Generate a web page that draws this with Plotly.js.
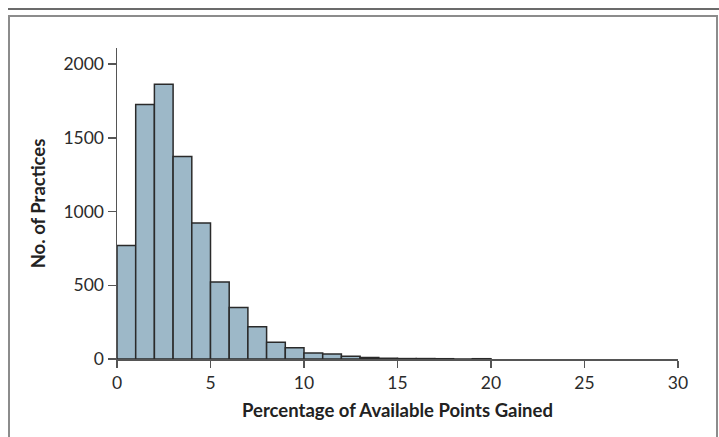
<!DOCTYPE html>
<html>
<head>
<meta charset="utf-8">
<script src="https://cdn.plot.ly/plotly-3.0.1.min.js"></script>
<style>
  html, body { margin: 0; padding: 0; background: #fff; }
  #wrap { position: relative; width: 719px; height: 437px; overflow: hidden; }
  #chart { position: absolute; left: 0; top: 0; width: 719px; height: 437px; }
  .topline { position: absolute; left: 8px; top: 8px; width: 711px; height: 2px; background: #6b6b6b; pointer-events: none; }
  .box { position: absolute; left: 8px; top: 15px; width: 706px; height: 440px; border: 2px solid #8c8c8c; border-bottom: none; pointer-events: none; }
</style>
</head>
<body>
<div id="wrap">
  <div id="chart"></div>
  <div class="topline"></div>
  <div class="box"></div>
</div>
<script>
// Histogram bins: percentage of available points gained (bin start, width 1)
const binStarts = [0, 1, 2, 3, 4, 5, 6, 7, 8, 9, 10, 11, 12, 13, 14, 15, 16, 17, 18, 19];
const practiceCounts = [770, 1726, 1864, 1374, 922, 522, 350, 219, 113, 77, 41, 34, 18, 11, 5, 3, 3, 2, 0, 2];
const xTickVals = [0, 5, 10, 15, 20, 25, 30];
const yTickVals = [0, 500, 1000, 1500, 2000];

const font = "Lato, 'Open Sans', 'Noto Sans', sans-serif";

const trace = {
  type: 'bar',
  x: binStarts,
  y: practiceCounts,
  width: 1,
  offset: 0,
  marker: { color: '#9db8c8', line: { color: '#2a2a2a', width: 1.5 } },
  hoverinfo: 'skip'
};

const layout = {
  width: 719, height: 437,
  margin: { l: 117, r: 41, t: 48, b: 78 },
  paper_bgcolor: 'rgba(0,0,0,0)',
  plot_bgcolor: 'rgba(0,0,0,0)',
  showlegend: false,
  bargap: 0,
  font: { family: font, size: 17.5, color: '#2b2b2b' },
  xaxis: {
    range: [0, 30],
    tickvals: xTickVals,
    ticktext: xTickVals.map(String),
    ticks: 'outside', ticklen: 7, tickwidth: 1.5, tickcolor: '#555',
    showline: true, linecolor: '#555', linewidth: 1.5,
    showgrid: false, zeroline: false,
    tickfont: { family: font, size: 17.5, color: '#2b2b2b' },
    title: { text: 'Percentage of Available Points Gained', standoff: 12,
             font: { family: font, size: 18.5, color: '#222', weight: 'bold' } },
    automargin: false,
    fixedrange: true
  },
  yaxis: {
    range: [0, 2110],
    tickvals: yTickVals,
    ticktext: yTickVals.map(String),
    ticks: 'outside', ticklen: 8, tickwidth: 1.5, tickcolor: '#555',
    showline: true, linecolor: '#555', linewidth: 1.5,
    showgrid: false, zeroline: false,
    tickfont: { family: font, size: 17.5, color: '#2b2b2b' },
    title: { text: 'No. of Practices', standoff: 13,
             font: { family: font, size: 18.5, color: '#222', weight: 'bold' } },
    automargin: false,
    fixedrange: true
  }
};

Plotly.newPlot('chart', [trace], layout, { displayModeBar: false, staticPlot: true });
</script>
</body>
</html>
